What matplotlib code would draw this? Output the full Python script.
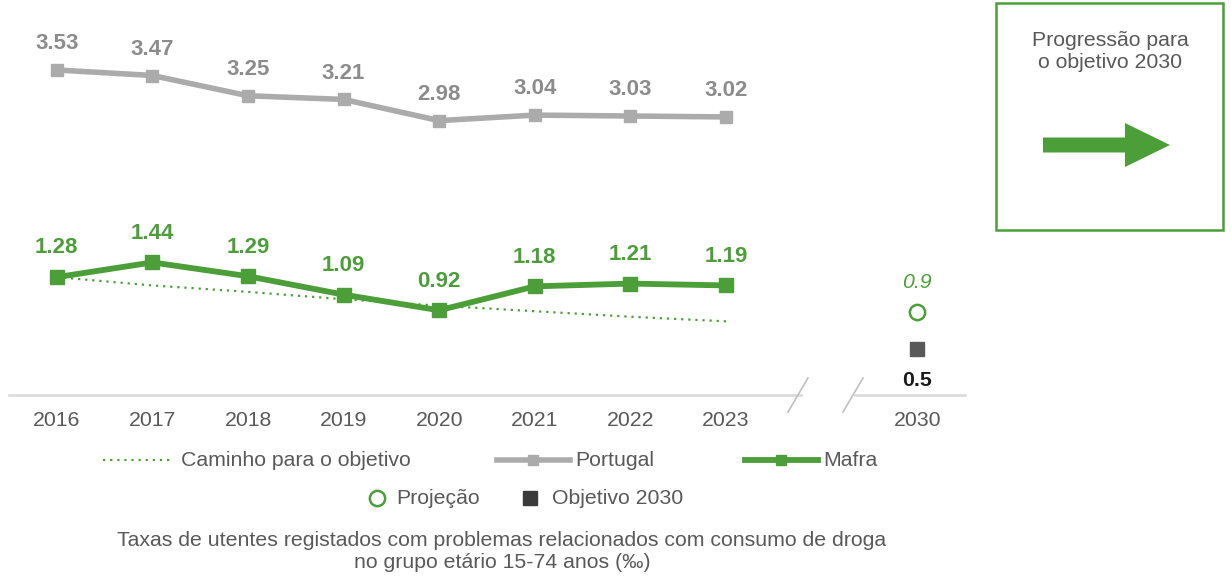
import matplotlib
matplotlib.use("Agg")
import matplotlib.pyplot as plt
from matplotlib.lines import Line2D
from matplotlib.patches import Rectangle, FancyArrow

plt.rcParams['font.family'] = ['Liberation Sans', 'DejaVu Sans']

# dados
anos = ['2016', '2017', '2018', '2019', '2020', '2021', '2022', '2023']
portugal = [3.53, 3.47, 3.25, 3.21, 2.98, 3.04, 3.03, 3.02]
mafra = [1.28, 1.44, 1.29, 1.09, 0.92, 1.18, 1.21, 1.19]
caminho = [1.28, 1.19, 1.12, 1.04, 0.97, 0.91, 0.85, 0.80]
ano_obj = '2030'
projecao = 0.9
objetivo = 0.5

verde = '#4C9E38'
cinza = '#ABABAB'
cinza_txt = '#8C8C8C'
escuro = '#595959'

W, H = 1231, 578
fig = plt.figure(figsize=(W / 100, H / 100), dpi=100)

def fx(px):
    return px / W

def fy(py):
    return 1 - py / H

ax = fig.add_axes([fx(9), fy(395), fx(965) - fx(9), 395 / H])
ax.set_xlim(-0.5, 9.5)
ax.set_ylim(0, 4.29)
ax.axis('off')

x = list(range(len(anos)))
x_obj = 9
fs = 15.3

ax.plot(x, caminho, color=verde, lw=1.6, ls=(0, (1, 2.2)), zorder=2)
ax.plot(x, portugal, color=cinza, lw=4, marker='s', ms=9, zorder=3)
ax.plot(x, mafra, color=verde, lw=4.2, marker='s', ms=10, zorder=4)

for xi, v in zip(x, portugal):
    ax.annotate(f'{v:.2f}', (xi, v), xytext=(0, 19), textcoords='offset points',
                ha='center', va='center', fontsize=16, fontweight='bold', color=cinza_txt)
for xi, v in zip(x, mafra):
    ax.annotate(f'{v:.2f}', (xi, v), xytext=(0, 21), textcoords='offset points',
                ha='center', va='center', fontsize=16, fontweight='bold', color=verde)

ax.plot([x_obj], [projecao], ls='none', marker='o', ms=11, mfc='white', mec=verde, mew=1.8)
ax.plot([x_obj], [objetivo], ls='none', marker='s', ms=10, color=escuro)
ax.annotate(f'{projecao:g}', (x_obj, projecao), xytext=(0, 21), textcoords='offset points',
            ha='center', va='center', fontsize=fs, fontstyle='italic', color=verde)
ax.annotate(f'{objetivo:g}', (x_obj, objetivo), xytext=(0, -23), textcoords='offset points',
            ha='center', va='center', fontsize=fs, fontweight='bold', color='#1A1A1A')

# eixo com quebra
ax.plot([-0.5, 7.78], [0, 0], color='#D9D9D9', lw=1.8, clip_on=False)
ax.plot([8.35, 9.5], [0, 0], color='#D9D9D9', lw=1.8, clip_on=False)
for xi, lab in zip(x + [x_obj], anos + [ano_obj]):
    ax.text(xi, -0.28, lab, ha='center', va='center', fontsize=fs, color='#595959')

for x0 in (808, 863):
    fig.add_artist(Line2D([fx(x0), fx(x0 - 20)], [fy(378), fy(412)], color='#BFBFBF', lw=1.2))

# legenda
fig.add_artist(Line2D([fx(103), fx(170)], [fy(460), fy(460)], color=verde, lw=1.6, ls=(0, (1, 2.2))))
fig.text(fx(181), fy(460), 'Caminho para o objetivo', fontsize=fs, color='#595959', va='center')
fig.add_artist(Line2D([fx(497), fx(570)], [fy(460), fy(460)], color=cinza, lw=4))
fig.add_artist(Line2D([fx(533)], [fy(460)], color=cinza, marker='s', ms=7))
fig.text(fx(575), fy(460), 'Portugal', fontsize=fs, color='#595959', va='center')
fig.add_artist(Line2D([fx(745), fx(818)], [fy(460), fy(460)], color=verde, lw=4.2))
fig.add_artist(Line2D([fx(781)], [fy(460)], color=verde, marker='s', ms=7))
fig.text(fx(823), fy(460), 'Mafra', fontsize=fs, color='#595959', va='center')

fig.add_artist(Line2D([fx(377)], [fy(498)], marker='o', ms=11, mfc='white', mec=verde, mew=1.8))
fig.text(fx(396), fy(498), 'Projeção', fontsize=fs, color='#595959', va='center')
fig.add_artist(Line2D([fx(530)], [fy(498)], marker='s', ms=10, color='#3A3A3A'))
fig.text(fx(552), fy(498), 'Objetivo 2030', fontsize=fs, color='#595959', va='center')

fig.text(fx(502), fy(552), 'Taxas de utentes registados com problemas relacionados com consumo de droga\n'
         'no grupo etário 15-74 anos (‰)', fontsize=fs, color='#595959',
         ha='center', va='center', linespacing=1.2)

# caixa de progressão
fig.add_artist(Rectangle((fx(996), fy(230)), fx(1223) - fx(996), (230 - 3) / H,
                         fill=False, edgecolor=verde, lw=1.8))
fig.text(fx(1110), fy(51), 'Progressão para\no objetivo 2030', fontsize=fs, color='#595959',
         ha='center', va='center', linespacing=1.2)
fig.add_artist(FancyArrow(fx(1043), fy(145), fx(1170) - fx(1043), 0,
                          width=15 / H, head_width=44 / H, head_length=fx(1170) - fx(1125),
                          length_includes_head=True, color=verde, lw=0))

fig.savefig('out.png', dpi=100)
